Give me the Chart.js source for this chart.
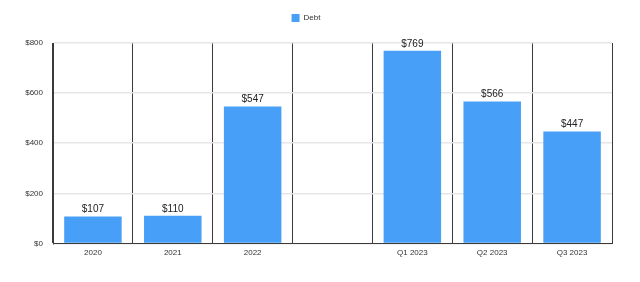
<!DOCTYPE html>
<html>
<head>
<meta charset="utf-8">
<script src="https://cdn.jsdelivr.net/npm/chart.js@4"></script>
<style>
  html, body { margin: 0; padding: 0; background: #fff; }
  #wrap { width: 640px; height: 282px; }
</style>
</head>
<body>
<div id="wrap"><canvas id="chart"></canvas></div>
<script>
var categories = ['2020', '2021', '2022', '', 'Q1 2023', 'Q2 2023', 'Q3 2023'];
var debtValues = [107, 110, 547, null, 769, 566, 447];
var yTicks = [0, 200, 400, 600, 800];

var barColor = '#489ff8';
var textColor = '#333333';

// draws "$value" above each bar
var valueLabels = {
    id: 'valueLabels',
    afterDatasetsDraw: function(chart) {
        var ctx = chart.ctx;
        var meta = chart.getDatasetMeta(0);
        ctx.save();
        ctx.font = '10px "Liberation Sans", Arial, sans-serif';
        ctx.fillStyle = '#222';
        ctx.textAlign = 'center';
        ctx.textBaseline = 'bottom';
        meta.data.forEach(function(bar, i) {
            var v = debtValues[i];
            if (v === null) { return; }
            ctx.fillText('$' + v, bar.x, bar.y - 2);
        });
        ctx.restore();
    }
};

// extra room under the legend
var legendGap = {
    id: 'legendGap',
    beforeInit: function(chart) {
        var fit = chart.legend.fit;
        chart.legend.fit = function() {
            fit.bind(chart.legend)();
            this.height += 11;
        };
    }
};

new Chart(document.getElementById('chart').getContext('2d'), {
    type: 'bar',
    data: {
        labels: categories,
        datasets: [{
            label: 'Debt',
            data: debtValues,
            backgroundColor: barColor,
            borderWidth: 0,
            categoryPercentage: 0.72,
            barPercentage: 1.0
        }]
    },
    options: {
        responsive: true,
        maintainAspectRatio: false,
        animation: false,
        layout: { padding: { left: 0, right: 28, top: 0, bottom: 19 } },
        plugins: {
            legend: {
                position: 'top',
                labels: {
                    boxWidth: 8,
                    boxHeight: 8,
                    padding: 14,
                    color: textColor,
                    font: { family: '"Liberation Sans", Arial, sans-serif', size: 8 }
                }
            },
            tooltip: { enabled: false }
        },
        scales: {
            x: {
                offset: true,
                grid: {
                    offset: true,
                    color: '#3a3a3a',
                    lineWidth: 1,
                    drawTicks: false
                },
                border: { color: '#3a3a3a', width: 1 },
                ticks: {
                    color: textColor,
                    padding: 5,
                    maxRotation: 0,
                    font: { family: '"Liberation Sans", Arial, sans-serif', size: 8 }
                }
            },
            y: {
                min: 0,
                max: 800,
                afterBuildTicks: function(scale) {
                    scale.ticks = yTicks.map(function(v) { return { value: v }; });
                },
                afterFit: function(scale) { scale.width = 53; },
                grid: { color: '#e6e6e6', lineWidth: 1.5, drawTicks: false },
                border: { color: '#3a3a3a', width: 1 },
                ticks: {
                    color: textColor,
                    padding: 10,
                    font: { family: '"Liberation Sans", Arial, sans-serif', size: 8 },
                    callback: function(v) { return '$' + v; }
                }
            }
        }
    },
    plugins: [valueLabels, legendGap]
});
</script>
</body>
</html>
